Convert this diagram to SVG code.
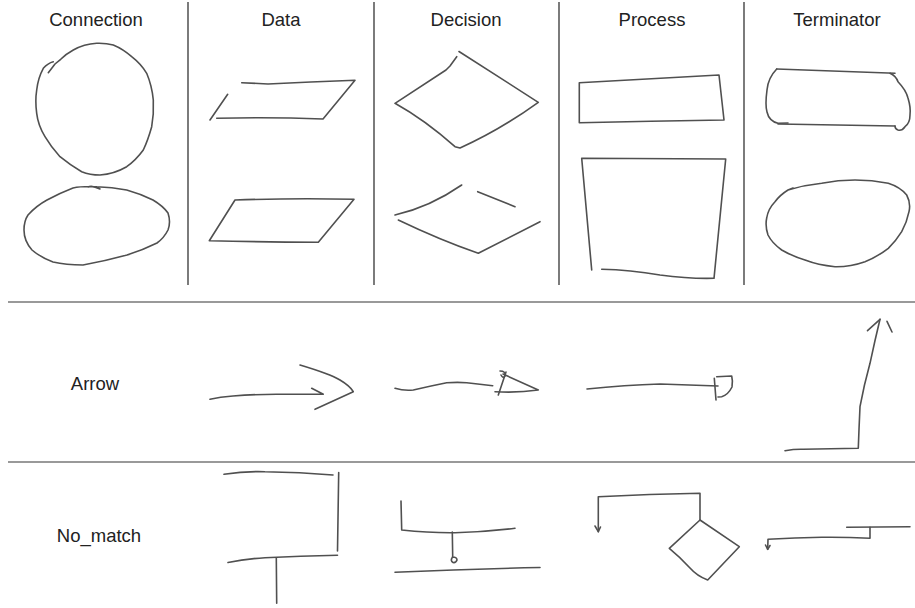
<svg xmlns="http://www.w3.org/2000/svg" width="915" height="608" viewBox="0 0 915 608">
<style>
.sk{fill:none;stroke:#505050;stroke-width:1.6;stroke-linecap:round;stroke-linejoin:round}
.grid{stroke:#444;stroke-width:1.4}
.hgrid{stroke:#777;stroke-width:1.6}
.lbl{font-family:"Liberation Sans",Arial,sans-serif;font-size:18.5px;fill:#222;text-anchor:middle}
</style>
<rect width="915" height="608" fill="#fff"/>
<g id="grid">
<line class="grid" x1="188" y1="2" x2="188" y2="285"/>
<line class="grid" x1="374" y1="2" x2="374" y2="285"/>
<line class="grid" x1="559" y1="2" x2="559" y2="285"/>
<line class="grid" x1="744" y1="2" x2="744" y2="285"/>
<line class="hgrid" x1="8" y1="302" x2="915" y2="302"/>
<line class="hgrid" x1="8" y1="462" x2="915" y2="462"/>
</g>
<g id="labels">
<text class="lbl" x="96" y="26">Connection</text>
<text class="lbl" x="281" y="26">Data</text>
<text class="lbl" x="466" y="26">Decision</text>
<text class="lbl" x="652" y="26">Process</text>
<text class="lbl" x="837" y="26">Terminator</text>
<text class="lbl" x="95" y="390">Arrow</text>
<text class="lbl" x="99" y="542">No_match</text>
</g>
<g id="connection-circle">
<path class="sk" d="M48.3,72.7 L55,64 L60.7,59.3 Q66,54 73.3,50 Q84,44 96.7,43.3 Q106,43 113.3,45 Q123,49 131.7,56.7 Q141,64 146.7,73.3 Q152,86 153.3,100 Q154,114 151.7,126.7 Q148,140 143.3,150 Q136,160 126.7,166.7 Q114,174 100,175 Q90,175 81.7,171.7 Q70,165 60,156.7 Q51,147 45,136.7 Q38,125 36.7,113.3 Q35,101 36.7,90 Q38,78 43.3,68.3 Q48,63 53.3,61.7"/>
</g>
<g id="connection-ellipse">
<path class="sk" d="M88,187 Q92,185 100,189 M96.7,186.7 Q112,187 126.7,190 Q141,194 153,200 Q163,206 168,213 Q171,222 168,230 Q164,238 157,243 Q143,250 127,255 Q105,261 83,265 Q66,265 53,262 Q40,257 32,250 Q24,241 24,230 Q24,221 28,215 Q36,206 47,200 Q60,193 73,188 Q82,186 96.7,186.7"/>
</g>
<g id="data-1">
<path class="sk" d="M241.7,82.7 L268,84 Q310,82 355,80.3 L323,119 Q270,117 216.7,118.3"/>
<path class="sk" d="M227.7,94.3 L210,120"/>
</g>
<g id="data-2">
<path class="sk" d="M235,200 Q295,198 354,199.3 L318.3,242.3 Q264,242 209.3,240.7 Z"/>
</g>
<g id="decision-1">
<path class="sk" d="M456.7,56.7 L450,66 L446,70 L395,103.3 Q425,120 455,146.7 L460,148 Q500,130 538.3,102.3 L459,51.5"/>
</g>
<g id="decision-2">
<path class="sk" d="M395,215 Q430,207 461.7,185"/>
<path class="sk" d="M477.7,191.7 L515,206.7"/>
<path class="sk" d="M398.3,220 Q440,240 478.3,253.3 L540,221.7"/>
</g>
<g id="process-1">
<path class="sk" d="M579.3,82.7 Q650,79 719,75 L724,120 Q650,121 579.3,122.7 Z"/>
</g>
<g id="process-2">
<path class="sk" d="M591.7,270 L581.7,158.3 L725.7,159 L714,278.3 Q690,279 660,275 Q630,270 601.7,269.3"/>
</g>
<g id="terminator-1">
<path class="sk" d="M776.7,69 L895,73.3"/>
<path class="sk" d="M776.7,69 Q768,78 767,90 Q765,105 767,112 Q769,121 778,123.3 L788,123"/>
<path class="sk" d="M778,124 L895,126"/>
<path class="sk" d="M890,73.3 Q896,76 898,81.7 Q906,90 908,98 Q911,108 910,115 Q910,123 905,126.7 Q902,131 898,130 Q895,129 895,126"/>
</g>
<g id="terminator-2">
<path class="sk" d="M788,190 Q805,185 821.7,183.3 Q838,180 855,180 Q872,180 888.3,183.3 Q900,187 906.7,195 Q911,203 909,211.7 Q907,222 901.7,231.7 Q896,241 888.3,248.3 Q877,257 865,261.7 Q850,267 835,266.7 Q818,265 805,260 Q792,256 781.7,250 Q772,243 768,235 Q765,226 766.7,218 Q768,209 775,201.7 Q780,195 788,190 L793,188"/>
</g>
<g id="arrow-1">
<path class="sk" d="M210,399.3 Q220,397 233,396 Q258,394 283,394.3 L323.3,394.3 L311.7,388.3"/>
<path class="sk" d="M300,365 Q330,374 340,380 Q350,386 353.3,391.7 L315,409.3"/>
</g>
<g id="arrow-2">
<path class="sk" d="M395,388.3 Q404,391 413.3,390 Q430,386 446.7,382.7 Q458,382 466.7,382.7 Q480,384 492.7,385.7"/>
<path class="sk" d="M503,374 L538.3,390 Q518,393 495,391.7"/>
<path class="sk" d="M506,372 L498.3,395"/>
<path class="sk" d="M500,371 Q506,371 505,376 Q503,379 501,375"/>
</g>
<g id="arrow-3">
<path class="sk" d="M587,389 Q625,385 660,384 L718,386"/>
<path class="sk" d="M714.3,378.3 L716,400"/>
<path class="sk" d="M716.7,376.7 L731.7,376 Q733,381 732,387 Q728,395 721.7,396.7 L718,397"/>
</g>
<g id="arrow-4">
<path class="sk" d="M785,450.7 Q795,449 803.3,449.3 L858.3,448.3 Q859,428 860,406.7 Q864,385 870,363.3 Q875,340 880,319.3"/>
<path class="sk" d="M867.5,330.7 L880,319.3"/>
<path class="sk" d="M887,321.3 L892,332"/>
</g>
<g id="nomatch-1">
<path class="sk" d="M224,474.3 Q245,471 265,471.7 Q300,472 333,475"/>
<path class="sk" d="M338.7,472.5 L337.5,551"/>
<path class="sk" d="M228,562.5 Q245,559 265,557.7 Q300,556 337.5,555.3"/>
<path class="sk" d="M276.3,558 L276.7,603.3"/>
</g>
<g id="nomatch-2">
<path class="sk" d="M401,501 L401.7,530 Q430,533 455,532.7 Q485,532 515,528.3"/>
<path class="sk" d="M452.3,532 L452.7,556.5"/>
<path class="sk" d="M452.5,557 Q457,557 457,560 Q456,563 453,562.5 Q450,561 452.5,557"/>
<path class="sk" d="M395,572.3 Q470,569 540,567.5"/>
</g>
<g id="nomatch-3">
<path class="sk" d="M598.3,531.7 L598.3,496.7 Q650,494 700,493.3 L700,520"/>
<path class="sk" d="M595,526 L598.3,531.7 L600.5,527"/>
<path class="sk" d="M700,520 L739.3,546.7 L707.7,580 Q697,576 690,568 Q680,557 669.3,548.3 Z"/>
</g>
<g id="nomatch-4">
<path class="sk" d="M846.7,527.3 L910,526.7"/>
<path class="sk" d="M870,527.3 L870,538.3 Q845,537 821.7,537.3 Q795,538 768,539.3 L767.7,549.3"/>
<path class="sk" d="M765.5,545 L767.7,549.3 L770,545.5"/>
</g>
</svg>
